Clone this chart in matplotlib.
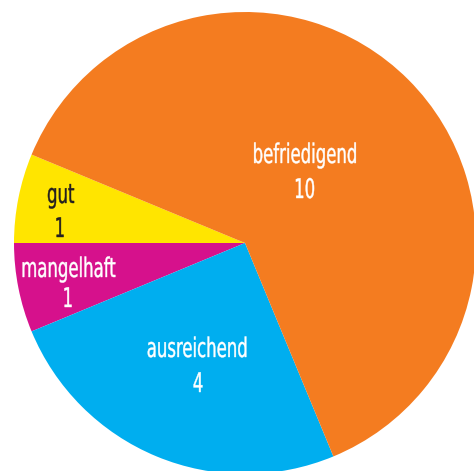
import matplotlib.pyplot as plt
from matplotlib.font_manager import FontProperties
from matplotlib.patches import PathPatch
from matplotlib.textpath import TextPath
from matplotlib.transforms import Affine2D

labels = ["gut", "mangelhaft", "ausreichend", "befriedigend"]
counts = [1, 1, 4, 10]
colors = ["#FFE500", "#D6118C", "#00AEEF", "#F47C20"]
text_colors = ["#231F20", "white", "white", "white"]

R_PX = 231.0
CX, CY = 245, 243


def px(x, y):
    # pixel position in the reference -> data units (pie radius = 1)
    return (x - CX) / R_PX, (CY - y) / R_PX


# (label centre x, label baseline y, value centre x, value baseline y) in pixels
label_px = [(61, 203, 60, 237), (69, 277, 68, 307), (197, 357, 198, 392), (305, 163, 305, 198)]

EM = 27.0 / R_PX
XSCALE = 0.68
FONT = FontProperties(family="DejaVu Sans", stretch="condensed")


def narrow_text(ax, s, x, y, color):
    tp = TextPath((0, 0), s, size=1, prop=FONT)
    ext = tp.get_extents()
    mid = (ext.x0 + ext.x1) / 2
    tr = Affine2D().translate(-mid, 0).scale(EM * XSCALE, EM).translate(x, y)
    ax.add_patch(PathPatch(tr.transform_path(tp), facecolor=color, edgecolor=color,
                           linewidth=0.3, zorder=5))


fig = plt.figure(figsize=(4.74, 4.71), dpi=100)
ax = fig.add_axes([0, 0, 1, 1])
ax.pie(counts, colors=colors, startangle=157.5, counterclock=True,
       radius=1.0, center=(0, 0), wedgeprops=dict(linewidth=0))

for lab, n, (lx, ly, vx, vy), tc in zip(labels, counts, label_px, text_colors):
    narrow_text(ax, lab, *px(lx, ly), tc)
    narrow_text(ax, str(n), *px(vx, vy), tc)

ax.set_xlim(-CX / R_PX, (474 - CX) / R_PX)
ax.set_ylim(-(471 - CY) / R_PX, CY / R_PX)
ax.set_aspect("equal")
ax.axis("off")
fig.savefig("out.png", dpi=100)
